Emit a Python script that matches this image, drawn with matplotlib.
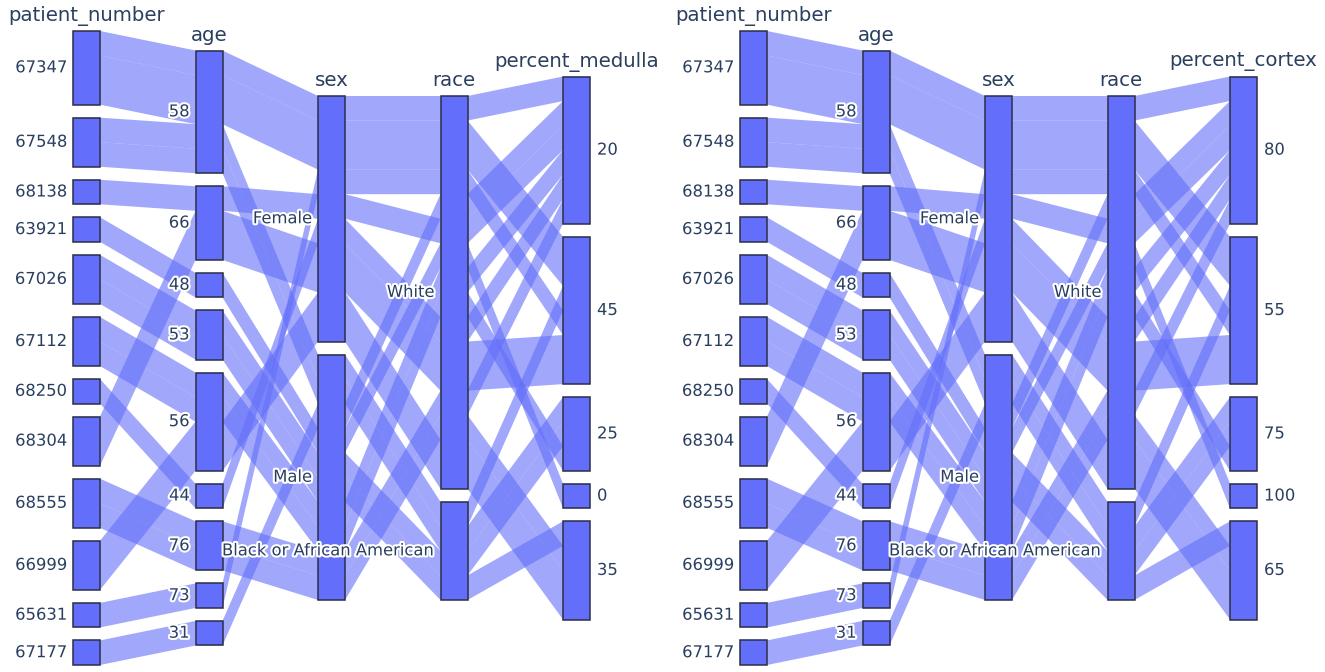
import matplotlib.pyplot as plt
from matplotlib.patches import Polygon, Rectangle
import matplotlib.patheffects as pe

# one entry per record
patient_number = ['67347', '67347', '67347', '67548', '67548', '68138', '63921', '67026', '67026', '67112',
                  '67112', '68250', '68304', '68304', '68555', '68555', '66999', '66999', '65631', '67177']
age = [58, 58, 58, 58, 58, 66, 48, 53, 53, 56, 56, 44, 66, 66, 76, 76, 56, 56, 73, 31]
sex = ['Female', 'Female', 'Female', 'Male', 'Male', 'Female', 'Male', 'Male', 'Male', 'Male',
       'Male', 'Female', 'Female', 'Female', 'Male', 'Male', 'Female', 'Female', 'Female', 'Male']
race = ['White', 'White', 'White', 'Black or African American', 'Black or African American', 'White',
        'White', 'Black or African American', 'Black or African American', 'White', 'White', 'White',
        'White', 'White', 'White', 'White', 'White', 'White', 'White', 'White']
percent_medulla = [20, 45, 45, 45, 25, 20, 0, 25, 35, 20, 25, 20, 45, 45, 20, 35, 35, 35, 45, 20]
percent_cortex = [80, 55, 55, 55, 75, 80, 100, 75, 65, 80, 75, 80, 55, 55, 80, 65, 65, 65, 55, 80]

COLOR = '#636efa'
TXT = '#2a3f5f'
FONT = 'DejaVu Sans'

fig = plt.figure(figsize=(13.25, 6.72), dpi=100)
ax = fig.add_axes([0, 0, 1, 1])
ax.set_xlim(0, 1325)
ax.set_ylim(672, 0)
ax.axis('off')

halo = [pe.withStroke(linewidth=3, foreground='white')]


def parcats(ax, columns, names, x0, dx=122.5, bw=27, cy=348, unit=24.55, gap=13):
    n = len(columns[0])
    cats = [list(dict.fromkeys(col)) for col in columns]
    inds = [[c.index(v) for v in col] for c, col in zip(cats, columns)]

    # unique paths, sorted the way plotly does it (string compare of index arrays)
    paths = {}
    for r in range(n):
        key = tuple(ind[r] for ind in inds)
        paths.setdefault(key, []).append(r)
    order = sorted(paths, key=lambda k: ','.join(str(v) for v in list(k) + [paths[k][0]]))

    # category boxes
    boxes = []
    for d, c in enumerate(cats):
        counts = [inds[d].count(i) for i in range(len(c))]
        total = n * unit + (len(c) - 1) * gap
        y = cy - total / 2
        col = []
        for cnt in counts:
            col.append([y, cnt * unit])
            y += cnt * unit + gap
        boxes.append(col)

    nxt = [[b[0] for b in col] for col in boxes]
    for key in order:
        h = len(paths[key]) * unit
        tops = []
        for d, ci in enumerate(key):
            tops.append(nxt[d][ci])
            nxt[d][ci] += h
        upper, lower = [], []
        for d, yt in enumerate(tops):
            xl = x0 + d * dx
            upper += [(xl, yt), (xl + bw, yt)]
            lower += [(xl, yt + h), (xl + bw, yt + h)]
        poly = Polygon(upper + lower[::-1], closed=True, facecolor=COLOR, alpha=0.6,
                       edgecolor='none', zorder=1)
        ax.add_patch(poly)

    last = len(cats) - 1
    for d, c in enumerate(cats):
        xl = x0 + d * dx
        for name, (yt, hh) in zip(c, boxes[d]):
            ax.add_patch(Rectangle((xl, yt), bw, hh, facecolor=COLOR, edgecolor='#2b2f45',
                                   lw=1.1, zorder=3))
            if d == last:
                ax.text(xl + bw + 7, yt + hh / 2, str(name), ha='left', va='center', fontsize=11.8,
                        color=TXT, family=FONT, zorder=5, path_effects=halo)
            else:
                ax.text(xl - 6, yt + hh / 2, str(name), ha='right', va='center', fontsize=11.8,
                        color=TXT, family=FONT, zorder=5, path_effects=halo)
        ax.text(xl + bw / 2, boxes[d][0][0] - 15, names[d], ha='center', va='center',
                fontsize=14.2, color=TXT, family=FONT, zorder=5)


parcats(ax, [patient_number, age, sex, race, percent_medulla],
        ['patient_number', 'age', 'sex', 'race', 'percent_medulla'], 73)
parcats(ax, [patient_number, age, sex, race, percent_cortex],
        ['patient_number', 'age', 'sex', 'race', 'percent_cortex'], 740)

fig.savefig('out.png', dpi=100)
